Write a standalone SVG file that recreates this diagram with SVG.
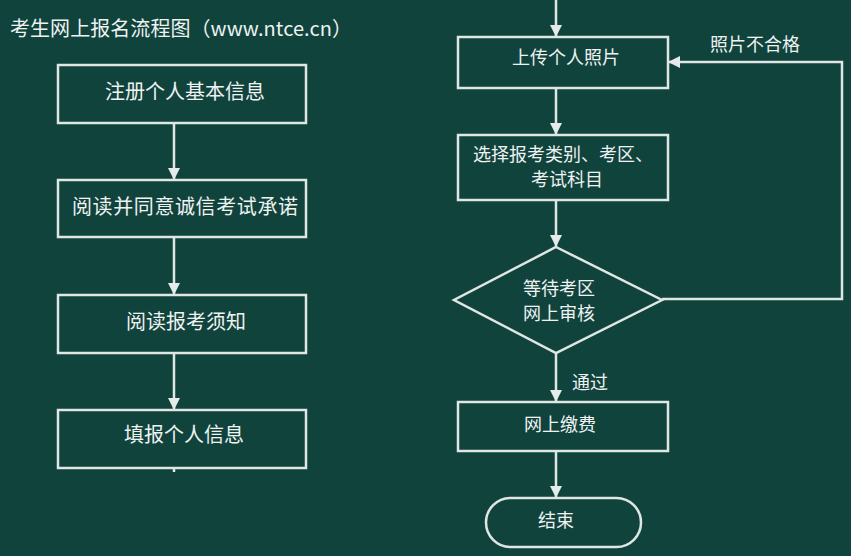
<svg xmlns="http://www.w3.org/2000/svg" width="851" height="556" viewBox="0 0 851 556">
<defs>
<marker id="arr" viewBox="0 0 12 12" refX="12" refY="6" markerWidth="12" markerHeight="12" markerUnits="userSpaceOnUse" orient="auto">
<path d="M0,0 L12,6 L0,12 Z" fill="#e4ebe9"/>
</marker>
<style>
.bg{fill:#11433d}
.box{fill:none;stroke:#dfe6e4;stroke-width:2.5}
.ln{fill:none;stroke:#dfe6e4;stroke-width:2.5}
text{font-family:"Noto Sans CJK SC","Liberation Sans",sans-serif;fill:#eef2f1;text-anchor:middle}
.t20{font-size:20px}
.t18{font-size:18px}
</style>
</defs>
<rect class="bg" x="0" y="0" width="851" height="556"/>
<text x="10" y="36" style="font-size:20px;text-anchor:start" textLength="342">考生网上报名流程图（www.ntce.cn）</text>

<g id="connectors">
<line class="ln" x1="174" y1="123" x2="174" y2="180" marker-end="url(#arr)"/>
<line class="ln" x1="174" y1="237" x2="174" y2="295" marker-end="url(#arr)"/>
<line class="ln" x1="174" y1="353" x2="174" y2="410" marker-end="url(#arr)"/>
<line class="ln" x1="174" y1="468" x2="174" y2="472"/>
<line class="ln" x1="556" y1="0" x2="556" y2="37" marker-end="url(#arr)"/>
<line class="ln" x1="556" y1="88" x2="556" y2="135" marker-end="url(#arr)"/>
<line class="ln" x1="556" y1="200" x2="556" y2="247" marker-end="url(#arr)"/>
<line class="ln" x1="556" y1="353" x2="556" y2="402" marker-end="url(#arr)"/>
<line class="ln" x1="556" y1="451" x2="556" y2="498" marker-end="url(#arr)"/>
<polyline class="ln" points="662,299 842,299 842,62 668,62" marker-end="url(#arr)"/>
<text class="t18" x="755" y="51">照片不合格</text>
<text class="t18" x="590" y="389">通过</text>
</g>

<g id="n1"><rect class="box" x="58" y="65" width="248" height="58"/><text class="t20" x="185" y="99">注册个人基本信息</text></g>
<g id="n2"><rect class="box" x="58" y="180" width="248" height="57"/><text class="t20" x="185" y="214" textLength="226">阅读并同意诚信考试承诺</text></g>
<g id="n3"><rect class="box" x="58" y="295" width="248" height="58"/><text class="t20" x="186" y="329">阅读报考须知</text></g>
<g id="n4"><rect class="box" x="58" y="410" width="248" height="58"/><text class="t20" x="184" y="442">填报个人信息</text></g>

<g id="n5"><rect class="box" x="458" y="37" width="210" height="51"/><text class="t18" x="566" y="64">上传个人照片</text></g>
<g id="n6"><rect class="box" x="458" y="135" width="210" height="65"/><text class="t18" x="563" y="161">选择报考类别、考区、</text><text class="t18" x="567" y="186">考试科目</text></g>
<g id="n7"><polygon class="box" points="556,247 662,300 556,353 454,300"/><text class="t18" x="559" y="295">等待考区</text><text class="t18" x="559" y="320">网上审核</text></g>
<g id="n8"><rect class="box" x="458" y="402" width="210" height="49"/><text class="t18" x="560" y="431">网上缴费</text></g>
<g id="n9"><rect class="box" x="486" y="498" width="155" height="49" rx="24.5" ry="24.5"/><text class="t18" x="556" y="527">结束</text></g>
</svg>
